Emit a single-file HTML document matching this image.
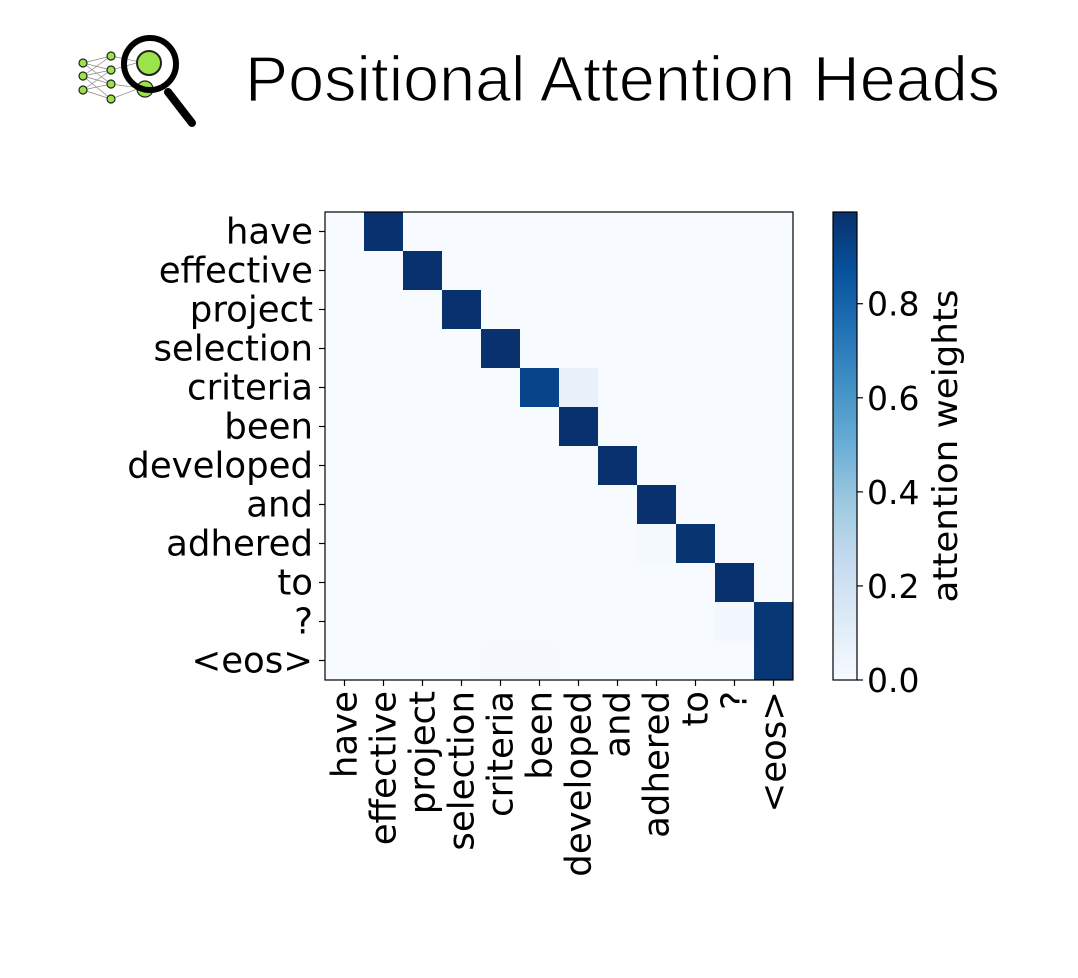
<!DOCTYPE html>
<html><head><meta charset="utf-8"><style>
body{margin:0;background:#fff;}
svg{display:block;font-family:"DejaVu Sans","Liberation Sans",sans-serif;}
</style></head><body>
<svg id="c" width="1078" height="978" viewBox="0 0 1078 978">
<g>
 <g stroke="#888" stroke-width="0.7">
  <line x1="83" y1="63" x2="111" y2="56"/><line x1="83" y1="63" x2="111" y2="70"/><line x1="83" y1="63" x2="111" y2="84"/>
  <line x1="83" y1="76" x2="111" y2="56"/><line x1="83" y1="76" x2="111" y2="70"/><line x1="83" y1="76" x2="111" y2="84"/><line x1="83" y1="76" x2="111" y2="99"/>
  <line x1="83" y1="90" x2="111" y2="70"/><line x1="83" y1="90" x2="111" y2="84"/><line x1="83" y1="90" x2="111" y2="99"/>
  <line x1="111" y1="56" x2="140" y2="62"/><line x1="111" y1="70" x2="140" y2="62"/><line x1="111" y1="84" x2="140" y2="88"/><line x1="111" y1="99" x2="140" y2="88"/>
 </g>
 <g fill="#9be34a" stroke="#222" stroke-width="1.2">
  <circle cx="83" cy="63" r="4"/><circle cx="83" cy="76" r="4"/><circle cx="83" cy="90" r="4"/>
  <circle cx="111" cy="56" r="4"/><circle cx="111" cy="70" r="4"/><circle cx="111" cy="84" r="4"/><circle cx="111" cy="99" r="4"/>
  <circle cx="145" cy="89" r="8"/>
  <circle cx="149" cy="63" r="12" stroke-width="2"/>
 </g>
 <line x1="168" y1="92" x2="192" y2="123" stroke="#000" stroke-width="8" stroke-linecap="round"/>
 <circle cx="150" cy="64" r="26" fill="none" stroke="#000" stroke-width="6"/>
</g>
<text x="245" y="101" font-family="'Liberation Sans',sans-serif" font-size="64" textLength="755" lengthAdjust="spacingAndGlyphs" fill="#000" stroke="#fff" stroke-width="1.3">Positional Attention Heads</text>
<g id="heat"></g>
<g id="cbar"></g>
</svg>
<script>
const rowLabels = ["have","effective","project","selection","criteria","been","developed","and","adhered","to","?","<eos>"];
const colLabels = ["have","effective","project","selection","criteria","been","developed","and","adhered","to","?","<eos>"];
// strong cells: [row, col, value]
const peakCells = [[0,1,0.99],[1,2,0.99],[2,3,0.99],[3,4,0.99],[4,5,0.92],[5,6,0.99],[6,7,0.99],[7,8,0.99],[8,9,0.98],[9,10,0.99],[10,11,0.97],[11,11,0.97]];
const faintCells = [[4,6,0.07],[8,8,0.015],[10,10,0.02],[11,4,0.012],[11,5,0.012]];
const baseValue = 0.002;
const cbarTicks = [0,0.2,0.4,0.6,0.8];
const vmax = 0.995;

const NS="http://www.w3.org/2000/svg";
const L=325,R=793,T=212,B=680;
const n=rowLabels.length, cw=(R-L)/colLabels.length, ch=(B-T)/n;
const xPos=c=>L+c*cw, yPos=r=>T+r*ch;
const stops=["#f7fbff","#deebf7","#c6dbef","#9ecae1","#6baed6","#4292c6","#2171b5","#08519c","#08306b"];
function hex(h){return [1,3,5].map(i=>parseInt(h.substr(i,2),16));}
function cmap(v){v=Math.max(0,Math.min(1,v/vmax));const p=v*8,i=Math.min(7,Math.floor(p)),f=p-i;const a=hex(stops[i]),b=hex(stops[i+1]);return "rgb("+a.map((x,k)=>Math.round(x+(b[k]-x)*f)).join(",")+")";}
function mk(t,attrs,parent){const e=document.createElementNS(NS,t);for(const k in attrs)e.setAttribute(k,attrs[k]);parent.appendChild(e);return e;}
const heat=document.getElementById("heat"), cb=document.getElementById("cbar");
const grid=[];for(let r=0;r<n;r++){grid.push(new Array(colLabels.length).fill(baseValue));}
faintCells.concat(peakCells).forEach(([r,c,v])=>grid[r][c]=v);
for(let r=0;r<n;r++)for(let c=0;c<colLabels.length;c++){
 const e=mk("rect",{x:xPos(c),y:yPos(r),width:cw+0.3,height:ch+0.3,fill:cmap(grid[r][c])},heat);
 
 
}
const frame=mk("rect",{x:L,y:T,width:R-L,height:B-T,fill:"none",stroke:"#000","stroke-width":1.2},heat);


rowLabels.forEach((lab,r)=>{
 const y=yPos(r)+ch/2;
 mk("line",{x1:L-6,y1:y,x2:L,y2:y,stroke:"#000","stroke-width":1.2},heat);
 const t=mk("text",{x:L-12,y:y+12,"text-anchor":"end","font-size":35.5,fill:"#000"},heat);
 t.textContent=lab;
 
 
});
colLabels.forEach((lab,c)=>{
 const x=xPos(c)+cw/2;
 mk("line",{x1:x,y1:B,x2:x,y2:B+6,stroke:"#000","stroke-width":1.2},heat);
 const t=mk("text",{x:0,y:0,"text-anchor":"end","font-size":35.5,fill:"#000",transform:"translate("+(x+12)+","+(B+11)+") rotate(-90)"},heat);
 t.textContent=lab;
 
 
});
// colorbar
const CL=833,CR=857;
const cbY=v=>B-(v/vmax)*(B-T);
const defs=mk("defs",{},cb);
const g=mk("linearGradient",{id:"cg",x1:0,y1:1,x2:0,y2:0},defs);
stops.forEach((s,i)=>mk("stop",{offset:i/8,"stop-color":s},g));
const bar=mk("rect",{x:CL,y:T,width:CR-CL,height:B-T,fill:"url(#cg)",stroke:"#000","stroke-width":1.2},cb);


cbarTicks.forEach(v=>{
 const y=cbY(v);
 mk("line",{x1:CR,y1:y,x2:CR+6,y2:y,stroke:"#000","stroke-width":1.2},cb);
 const t=mk("text",{x:CR+10,y:y+12,"font-size":33,fill:"#000"},cb);
 t.textContent=v.toFixed(1);
 
 
});
const lab=mk("text",{x:0,y:0,"text-anchor":"middle","font-size":34,textLength:313,lengthAdjust:"spacingAndGlyphs",fill:"#000",transform:"translate(957,446) rotate(-90)"},cb);
lab.textContent="attention weights";


</script>
</body></html>
